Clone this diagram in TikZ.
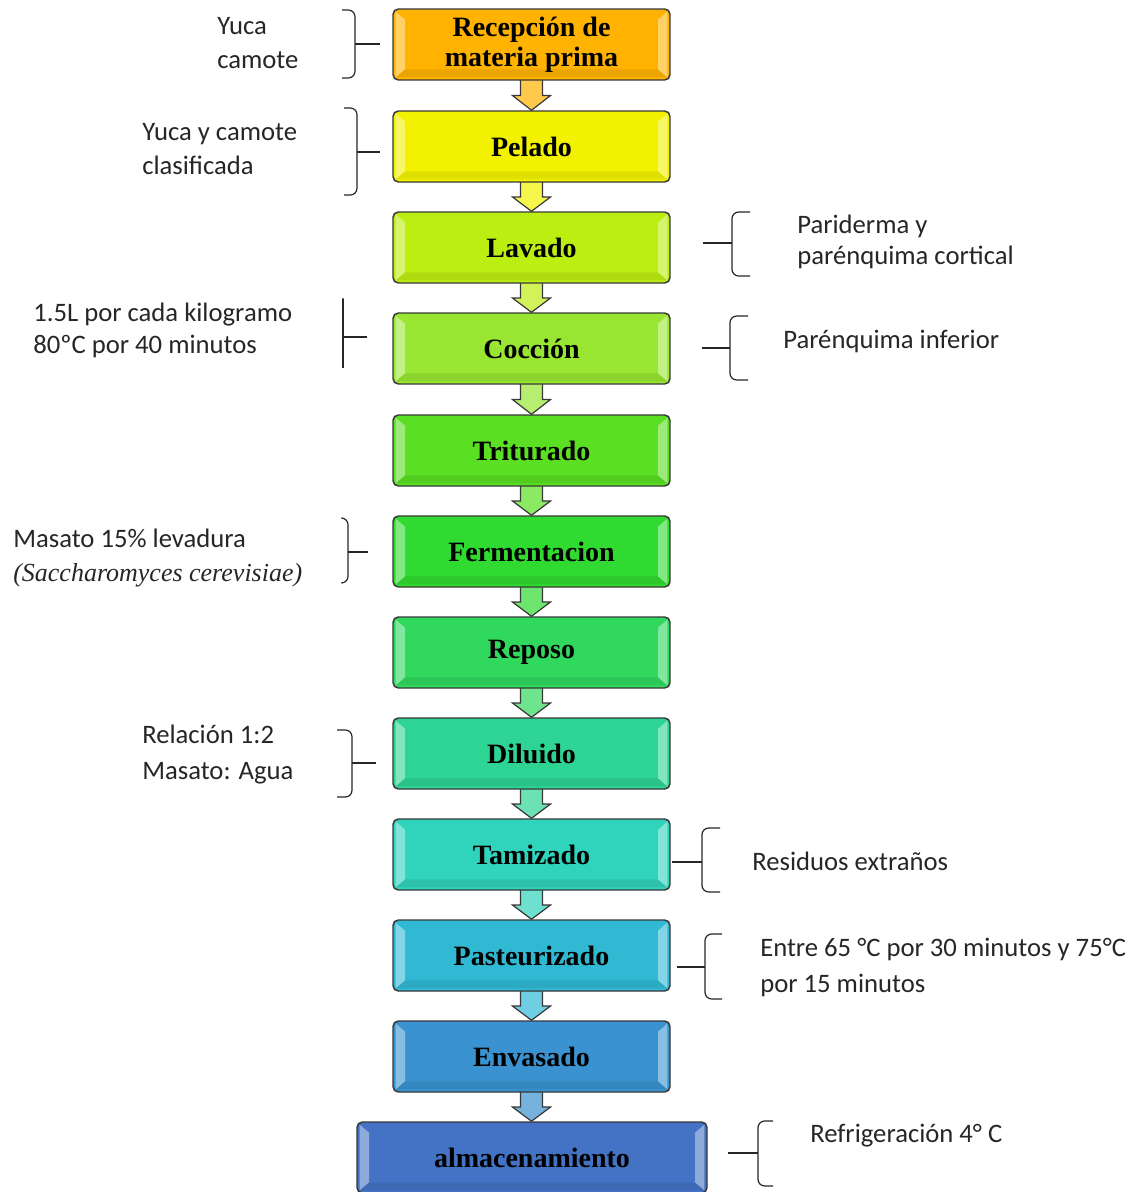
\documentclass[tikz,border=0pt]{standalone}
\usepackage{fontspec}
\setmainfont{Carlito}
\newfontfamily\stepfont{Liberation Serif}
\usetikzlibrary{calc,backgrounds}

% process step colours, top to bottom
\definecolor{cA}{HTML}{FFB300}
\definecolor{cB}{HTML}{F2F200}
\definecolor{cC}{HTML}{BDEE12}
\definecolor{cD}{HTML}{98E632}
\definecolor{cE}{HTML}{5ADF22}
\definecolor{cF}{HTML}{30DA30}
\definecolor{cG}{HTML}{30D85E}
\definecolor{cH}{HTML}{2DD493}
\definecolor{cI}{HTML}{30D3BB}
\definecolor{cJ}{HTML}{31B9D4}
\definecolor{cK}{HTML}{3A93D0}
\definecolor{cL}{HTML}{4472C4}

% block arrow from the bottom of one step to the top of the next
\newcommand\flowarrow[3]{%
  \path[flowarrow style, fill=#3!70!white]
    let \p1=(#1.south), \p2=(#2.north), \p3=($(#1.south)!0.5!(#2.north)$) in
    (\x1-8.25pt,\y1+2pt) -- (\x1-8.25pt,\y3) -- (\x1-14.25pt,\y3) -- (\x1,\y2)
    -- (\x1+14.25pt,\y3) -- (\x1+8.25pt,\y3) -- (\x1+8.25pt,\y1+2pt) -- cycle;}

% brace: vertical x, top, bottom, hook end x, tick y, tick end x
\newcommand\bracemark[6]{%
  \draw[brace style] (#4,#2) -- (#1,#2) -- (#1,#3) -- (#4,#3);
  \draw[brace style, sharp corners] (#1,#5) -- (#6,#5);}

\begin{document}
\begin{tikzpicture}[x=0.75pt,y=-0.75pt,
  stepbox/.style={draw=black!78, line width=1.1pt, rounded corners=4pt,
    minimum width=207.75pt, minimum height=53.25pt, inner sep=0pt, align=center,
    font=\stepfont\bfseries\fontsize{21}{22.5}\selectfont,
    path picture={
      \fill[white, opacity=0.4, sharp corners]
        ([shift={(2pt,2pt)}]path picture bounding box.south west) --
        ([shift={(9pt,8pt)}]path picture bounding box.south west) --
        ([shift={(9pt,-8pt)}]path picture bounding box.north west) --
        ([shift={(2pt,-2pt)}]path picture bounding box.north west) -- cycle;
      \fill[white, opacity=0.4, sharp corners]
        ([shift={(-2pt,2pt)}]path picture bounding box.south east) --
        ([shift={(-9pt,8pt)}]path picture bounding box.south east) --
        ([shift={(-9pt,-8pt)}]path picture bounding box.north east) --
        ([shift={(-2pt,-2pt)}]path picture bounding box.north east) -- cycle;
      \fill[black, opacity=0.08, sharp corners]
        ([shift={(2pt,2pt)}]path picture bounding box.south west) --
        ([shift={(9pt,8pt)}]path picture bounding box.south west) --
        ([shift={(-9pt,8pt)}]path picture bounding box.south east) --
        ([shift={(-2pt,2pt)}]path picture bounding box.south east) -- cycle;
    }},
  note/.style={anchor=west, inner sep=0pt, align=left, text=black!85,
    font=\fontsize{20}{25}\selectfont},
  brace style/.style={draw=black!85, line width=0.9pt, rounded corners=5pt},
  flowarrow style/.style={draw=black!78, line width=0.9pt, line join=miter}
]
\useasboundingbox (0,0) rectangle (1139,1192);

% process steps
\node[stepbox, fill=cA] (s1)  at (531.5,44.5) {Recepción de\\materia prima};
\node[stepbox, fill=cB] (s2)  at (531.5,146.5) {Pelado};
\node[stepbox, fill=cC] (s3)  at (531.5,247.5) {Lavado};
\node[stepbox, fill=cD] (s4)  at (531.5,348.5) {Cocción};
\node[stepbox, fill=cE] (s5)  at (531.5,450.5) {Triturado};
\node[stepbox, fill=cF] (s6)  at (531.5,551.5) {Fermentacion};
\node[stepbox, fill=cG] (s7)  at (531.5,652.5) {Reposo};
\node[stepbox, fill=cH] (s8)  at (531.5,753.5) {Diluido};
\node[stepbox, fill=cI] (s9)  at (531.5,854.5) {Tamizado};
\node[stepbox, fill=cJ] (s10) at (531.5,955.5) {Pasteurizado};
\node[stepbox, fill=cK] (s11) at (531.5,1056.5) {Envasado};
\node[stepbox, fill=cL, minimum width=262.5pt] (s12) at (532,1157.5) {almacenamiento};

% arrows between steps
\begin{scope}[on background layer]
  \flowarrow{s1}{s2}{cA}
  \flowarrow{s2}{s3}{cB}
  \flowarrow{s3}{s4}{cC}
  \flowarrow{s4}{s5}{cD}
  \flowarrow{s5}{s6}{cE}
  \flowarrow{s6}{s7}{cF}
  \flowarrow{s7}{s8}{cG}
  \flowarrow{s8}{s9}{cH}
  \flowarrow{s9}{s10}{cI}
  \flowarrow{s10}{s11}{cJ}
  \flowarrow{s11}{s12}{cK}
\end{scope}

% notes
\node[note] (n1)  at (217,43)  {Yuca\\camote};
\node[note] (n2)  at (142,149) {Yuca y camote\\clasificada};
\node[note, font=\fontsize{20}{23.5}\selectfont] (n3)  at (797,242) {Pariderma y\\parénquima cortical};
\node[note, font=\fontsize{20}{24}\selectfont] (n4)  at (33,330)  {1.5L por cada kilogramo\\80ºC por 40 minutos};
\node[note] (n5)  at (783,341) {Parénquima inferior};
\node[note] (n6)  at (13,558)  {Masato 15\% levadura\\{\stepfont\itshape\fontsize{19.5}{25}\selectfont (Saccharomyces cerevisiae)}};
\node[note, font=\fontsize{20}{27}\selectfont] (n7)  at (142,755) {Relación 1:2\\Masato: Agua};
\node[note] (n8)  at (752,861) {Residuos extraños};
\node[note, font=\fontsize{20}{27}\selectfont] (n9)  at (760,967) {Entre 65 °C por 30 minutos y 75°C\\por 15 minutos};
\node[note] (n10) at (810,1136) {Refrigeración 4° C};

% braces
\bracemark{355}{10}{78}{342}{44}{380}
\bracemark{357}{108}{195}{344}{152}{380}
\bracemark{732}{212}{276}{750}{243}{703}
\bracemark{343}{305}{368}{343}{337}{367}
\bracemark{730}{316}{380}{748}{348}{702}
\bracemark{348}{518}{583}{342}{552}{368}
\bracemark{352}{730}{797}{337}{763}{376}
\bracemark{702}{828}{892}{720}{862}{672}
\bracemark{705}{934}{999}{722}{967}{677}
\bracemark{758}{1121}{1186}{773}{1153}{728}
\end{tikzpicture}
\end{document}
